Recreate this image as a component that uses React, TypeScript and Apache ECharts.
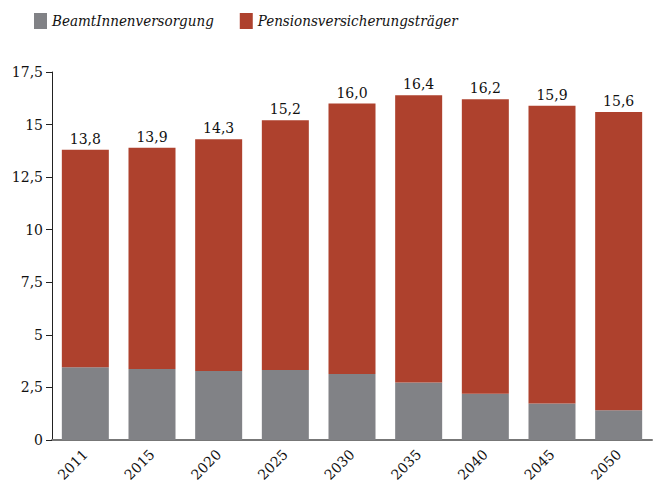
import React, { useEffect, useRef } from "react";
import * as echarts from "echarts";

const years = ["2011", "2015", "2020", "2025", "2030", "2035", "2040", "2045", "2050"];
const totals = [13.8, 13.9, 14.3, 15.2, 16.0, 16.4, 16.2, 15.9, 15.6];
const beamte = [3.46, 3.38, 3.28, 3.33, 3.14, 2.73, 2.2, 1.73, 1.41];
const pension = totals.map((t, i) => +(t - beamte[i]).toFixed(2));

const fmt = (v: number) => (Number.isInteger(v) ? String(v) : v.toFixed(1).replace(".", ","));

export default function App() {
  const ref = useRef<HTMLDivElement>(null);
  useEffect(() => {
    if (!ref.current) return;
    const chart = echarts.init(ref.current, null, { renderer: "svg" });
    const font = "DejaVu Serif";
    const legendFont = "DejaVu Serif Condensed";
    chart.setOption({
      animation: false,
      textStyle: { fontFamily: font },
      legend: {
        left: 29,
        top: 8,
        itemWidth: 13,
        itemHeight: 16,
        itemGap: 26,
        icon: "rect",
        textStyle: { fontFamily: legendFont, fontStyle: "italic", fontSize: 15, color: "#111" },
        data: ["BeamtInnenversorgung", "Pensionsversicherungsträger"],
      },
      grid: { left: 52, right: 1, top: 72, bottom: 49, containLabel: false },
      xAxis: {
        type: "category",
        data: years,
        axisLine: { lineStyle: { color: "#777", width: 2 } },
        axisTick: { show: false },
        axisLabel: { rotate: 45, fontSize: 14, color: "#111", fontFamily: font, margin: 12 },
      },
      yAxis: {
        type: "value",
        min: 0,
        max: 17.5,
        interval: 2.5,
        splitLine: { show: false },
        axisLine: { show: true, lineStyle: { color: "#222", width: 1 } },
        axisTick: { show: true, length: 6, lineStyle: { color: "#222" } },
        axisLabel: { fontSize: 14, color: "#111", fontFamily: font, margin: 9, formatter: (v: number) => fmt(v) },
      },
      series: [
        {
          name: "BeamtInnenversorgung",
          type: "bar",
          stack: "a",
          barWidth: 47,
          data: beamte,
          itemStyle: { color: "#818286" },
        },
        {
          name: "Pensionsversicherungsträger",
          type: "bar",
          stack: "a",
          barWidth: 47,
          data: pension,
          itemStyle: { color: "#ae412d" },
          label: {
            show: true,
            position: "top",
            distance: 4,
            fontSize: 14,
            color: "#111",
            fontFamily: font,
            formatter: (p: any) => totals[p.dataIndex].toFixed(1).replace(".", ","),
          },
        },
      ],
    });
    return () => chart.dispose();
  }, []);
  return <div ref={ref} style={{ position: "absolute", left: 0, top: 0, width: 653, height: 489 }} />;
}
